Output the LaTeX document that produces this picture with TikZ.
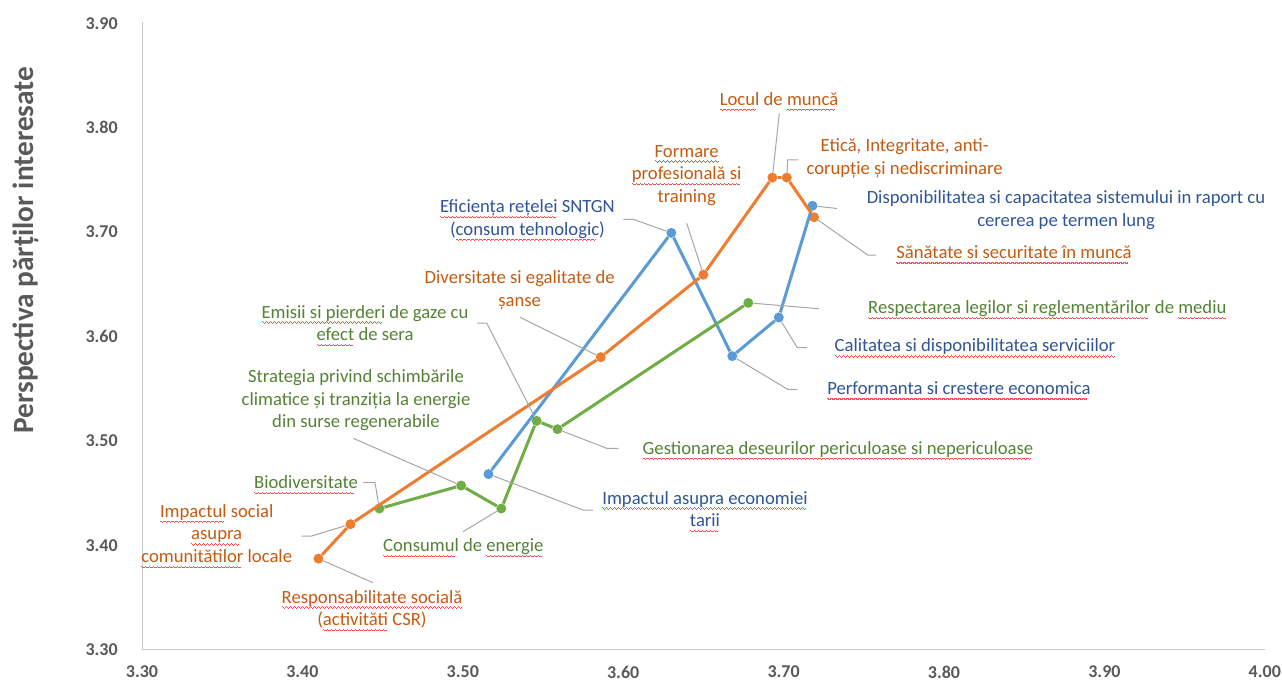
\documentclass[tikz,border=0pt]{standalone}
\usepackage{fontspec}
\setmainfont{Carlito}
\usepackage{tikz}
\usetikzlibrary{positioning}

\definecolor{serorange}{HTML}{ED7D31}
\definecolor{serblue}{HTML}{5B9BD5}
\definecolor{sergreen}{HTML}{70AD47}
\definecolor{txtorange}{HTML}{C55A11}
\definecolor{txtblue}{HTML}{2F5597}
\definecolor{txtgreen}{HTML}{548235}
\definecolor{axisgray}{HTML}{595959}
\definecolor{leadgray}{HTML}{A6A6A6}
\definecolor{gridgray}{HTML}{C8C8C8}
\definecolor{wavered}{HTML}{F05050}

% spell-check wave under a word
\newcommand\squigpiece{\hbox{%
  \vrule width.75pt height-2.4pt depth3.2pt
  \vrule width.75pt height-2.9pt depth3.7pt
  \vrule width.75pt height-3.4pt depth4.2pt
  \vrule width.75pt height-2.9pt depth3.7pt}}
\newcommand\squig[1]{\leavevmode\setbox0\hbox{#1}%
  \rlap{\textcolor{wavered}{\hbox to\wd0{\leaders\squigpiece\hfill}}}\box0\relax}

\begin{document}
\begin{tikzpicture}[
        x=0.75pt, y=-0.75pt,
        dot/.style={circle, inner sep=0pt, minimum size=7.5pt, fill=#1},
        serie/.style={line width=2.25pt, line join=round, #1},
        lead/.style={draw=leadgray, line width=0.75pt},
        tag/.style={align=center, inner sep=0pt, text=#1,
          font=\fontsize{14}{17}\selectfont},
        ticklbl/.style={font=\bfseries\fontsize{13.5}{16}\selectfont, text=axisgray, inner sep=0pt}
      ]
      \useasboundingbox (0,0) rectangle (1282,681);

      % axes
      \draw[gridgray, line width=0.75pt] (142,22) -- (142,649.5) -- (1265,649.5);
      \foreach \v [count=\i from 0] in {3.30,3.40,3.50,3.60,3.70,3.80,3.90,4.00}
        \node[ticklbl] (xt\i) at ({142+160.4*\i},672) {\v};
      \foreach \v [count=\i from 0] in {3.90,3.80,3.70,3.60,3.50,3.40,3.30}
        \node[ticklbl, anchor=east] (yt\i) at (118,{23.3+104.4*\i}) {\v};
      \node[rotate=90, text=axisgray, font=\bfseries\fontsize{22}{26}\selectfont] (ytitle)
        at (26,250) {Perspectiva părților interesate};

      % data points
      \begin{scope}[shift={(-3863.4pt,-3071.0pt)}, x=1203pt, y=783pt]
        \node[dot=serorange] (resp)    at (3.410,3.387) {};
        \node[dot=serorange] (impsoc)  at (3.430,3.420) {};
        \node[dot=serorange] (divers)  at (3.586,3.580) {};
        \node[dot=serorange] (formare) at (3.650,3.659) {};
        \node[dot=serorange] (locul)   at (3.693,3.752) {};
        \node[dot=serorange] (etica)   at (3.702,3.752) {};
        \node[dot=serorange] (san)     at (3.719,3.714) {};
        \node[dot=serblue] (impec) at (3.516,3.468) {};
        \node[dot=serblue] (efic)  at (3.630,3.699) {};
        \node[dot=serblue] (perf)  at (3.668,3.581) {};
        \node[dot=serblue] (calit) at (3.697,3.618) {};
        \node[dot=serblue] (disp)  at (3.718,3.725) {};
        \node[dot=sergreen] (bio)     at (3.448,3.435) {};
        \node[dot=sergreen] (strat)   at (3.499,3.457) {};
        \node[dot=sergreen] (consum)  at (3.524,3.435) {};
        \node[dot=sergreen] (emisii)  at (3.546,3.519) {};
        \node[dot=sergreen] (gest)    at (3.559,3.511) {};
        \node[dot=sergreen] (respect) at (3.678,3.632) {};
      \end{scope}

      \draw[serie=serblue] (impec) -- (efic) -- (perf) -- (calit) -- (disp);
      \draw[serie=sergreen] (bio) -- (strat) -- (consum) -- (emisii) -- (gest) -- (respect);
      \draw[serie=serorange] (resp) -- (impsoc) -- (divers) -- (formare) -- (locul) -- (etica) -- (san);

      % labels
      \node[tag=txtorange] (t-locul) at (779,101.7) {\squig{Locul} de \squig{muncă}};
      \node[tag=txtorange] (t-formare) at (686.7,175.5) {\squig{Formare}\\\squig{profesională si}\\training};
      \node[tag=txtorange] (t-etica) at (904.6,158.5) {Etică, Integritate, anti-\\corupție și nediscriminare};
      \node[tag=txtblue] (t-disp) at (1066,210.3) {Disponibilitatea si capacitatea sistemului in raport cu\\cererea pe termen lung};
      \node[tag=txtorange] (t-san) at (1014,255) {\squig{Sănătate si securitate în muncă}};
      \node[tag=txtgreen] (t-respect) at (1047.3,310) {\squig{Respectarea legilor si reglementărilor} de \squig{mediu}};
      \node[tag=txtblue] (t-calit) at (975,348.3) {\squig{Calitatea si disponibilitatea serviciilor}};
      \node[tag=txtblue] (t-perf) at (959,391) {\squig{Performanta si crestere economica}};
      \node[tag=txtgreen] (t-gest) at (838,450.7) {\squig{Gestionarea deseurilor periculoase si nepericuloase}};
      \node[tag=txtblue] (t-impec) at (705,511.8) {\squig{Impactul asupra economiei}\\\squig{tarii}};
      \node[tag=txtgreen] (t-consum) at (463.3,548) {\squig{Consumul} de \squig{energie}};
      \node[tag=txtgreen] (t-bio) at (306,485) {\squig{Biodiversitate}};
      \node[tag=txtorange] (t-impsoc) at (216.7,536.3) {\squig{Impactul} social\\\squig{asupra}\\\squig{comunitătilor} locale};
      \node[tag=txtorange] (t-resp) at (372,610.8) {\squig{Responsabilitate socială}\\(\squig{activităti} CSR)};
      \node[tag=txtblue] (t-efic) at (527.5,220.5) {\squig{Eficiența rețelei} SNTGN\\(\squig{consum tehnologic})};
      \node[tag=txtorange] (t-divers) at (519.7,290.5) {Diversitate si egalitate de\\șanse};
      \node[tag=txtgreen] (t-emisii) at (365,325.8) {\squig{Emisii si pierderi} de gaze cu\\\squig{efect} de sera};
      \node[tag=txtgreen] (t-strat) at (356,400.2) {Strategia privind schimbările\\climatice și tranziția la energie\\din surse regenerabile};

      % leader lines
      \coordinate (l-locul) at (779.3,113.3);
      \coordinate (l-formare) at (686.7,223.3);
      \coordinate (l-etica) at (798.3,160);
      \coordinate (k-etica) at (787.7,160);
      \coordinate (l-disp) at (837,208.5);
      \coordinate (l-san) at (876,255);
      \coordinate (k-san) at (867.7,255);
      \coordinate (l-respect) at (819,308.7);
      \coordinate (l-calit) at (807,347.7);
      \coordinate (k-calit) at (797.3,347.7);
      \coordinate (l-perf) at (797.3,389.3);
      \coordinate (k-perf) at (787.7,389.3);
      \coordinate (l-gest) at (618.3,448.3);
      \coordinate (k-gest) at (606.7,448.3);
      \coordinate (l-impec) at (593,510);
      \coordinate (k-impec) at (583,510);
      \coordinate (l-consum) at (463,531.7);
      \coordinate (l-bio) at (363,482.7);
      \coordinate (k-bio) at (375,482.7);
      \coordinate (l-impsoc) at (301.7,536);
      \coordinate (k-impsoc) at (311.7,536);
      \coordinate (l-resp) at (373,582.7);
      \coordinate (l-efic) at (623.3,219.3);
      \coordinate (k-efic) at (633.3,219.3);
      \coordinate (l-divers) at (520,317.3);
      \coordinate (l-emisii) at (477,323);
      \coordinate (k-emisii) at (486.7,323);
      \coordinate (l-strat) at (353.3,438.3);

      \draw[lead] (l-locul) -- (locul);
      \draw[lead] (l-formare) -- (formare);
      \draw[lead] (l-etica) -- (k-etica) -- (etica);
      \draw[lead] (l-disp) -- (disp);
      \draw[lead] (l-san) -- (k-san) -- (san);
      \draw[lead] (l-respect) -- (respect);
      \draw[lead] (l-calit) -- (k-calit) -- (calit);
      \draw[lead] (l-perf) -- (k-perf) -- (perf);
      \draw[lead] (l-gest) -- (k-gest) -- (gest);
      \draw[lead] (l-impec) -- (k-impec) -- (impec);
      \draw[lead] (l-consum) -- (consum);
      \draw[lead] (l-bio) -- (k-bio) -- (bio);
      \draw[lead] (l-impsoc) -- (k-impsoc) -- (impsoc);
      \draw[lead] (l-resp) -- (resp);
      \draw[lead] (l-efic) -- (k-efic) -- (efic);
      \draw[lead] (l-divers) -- (divers);
      \draw[lead] (l-emisii) -- (k-emisii) -- (emisii);
      \draw[lead] (l-strat) -- (strat);
      \end{tikzpicture}
\end{document}
